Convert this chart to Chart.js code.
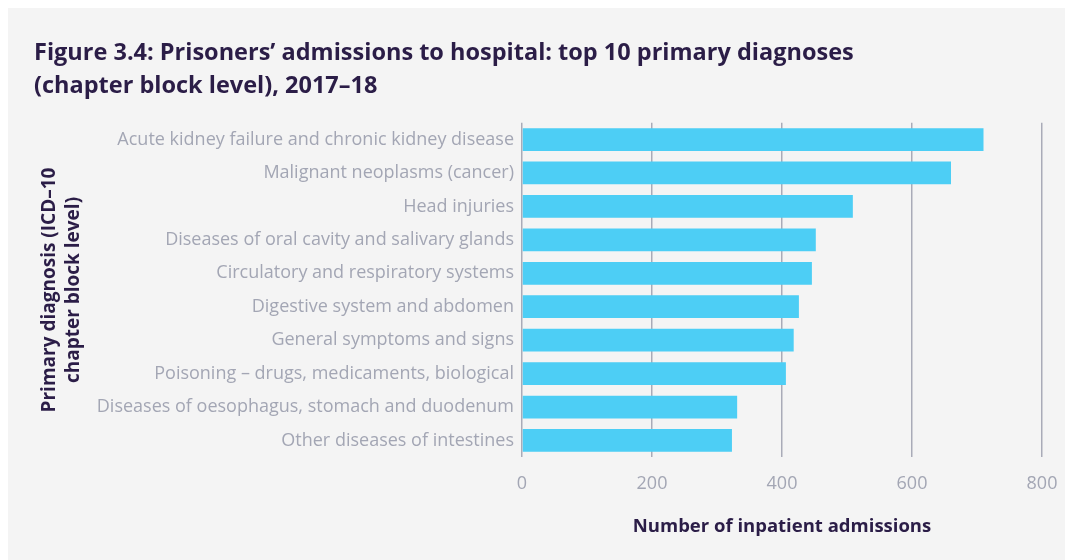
<!DOCTYPE html>
<html>
<head>
<meta charset="utf-8">
<script src="https://cdn.jsdelivr.net/npm/chart.js@4"></script>
<style>
  html, body { margin: 0; padding: 0; background: #ffffff; }
  #wrap { position: absolute; left: 8px; top: 8px; width: 1057px; height: 552px; background: #f4f4f4; }
</style>
</head>
<body>
<div id="wrap"><canvas id="diagChart"></canvas></div>
<script>
// Categorías y valores
const diagnoses = [
    'Acute kidney failure and chronic kidney disease',
    'Malignant neoplasms (cancer)',
    'Head injuries',
    'Diseases of oral cavity and salivary glands',
    'Circulatory and respiratory systems',
    'Digestive system and abdomen',
    'General symptoms and signs',
    'Poisoning – drugs, medicaments, biological',
    'Diseases of oesophagus, stomach and duodenum',
    'Other diseases of intestines'
];
const admissions = [710, 660, 509, 452, 446, 426, 418, 406, 331, 323];
const xTicks = [0, 200, 400, 600, 800];

const titleColor = '#2b1d47';
const labelColor = '#a3a6b4';

document.addEventListener('DOMContentLoaded', function () {
    const ctx = document.getElementById('diagChart').getContext('2d');

    new Chart(ctx, {
        type: 'bar',
        data: {
            labels: diagnoses,
            datasets: [{
                data: admissions,
                backgroundColor: '#4dcef5',
                borderWidth: 0,
                barPercentage: 0.68,
                categoryPercentage: 1.0
            }]
        },
        options: {
            indexAxis: 'y',
            responsive: true,
            maintainAspectRatio: false,
            animation: false,
            layout: { padding: { left: 26, right: 23, top: 29, bottom: 18 } },
            scales: {
                x: {
                    min: 0,
                    max: 800,
                    afterBuildTicks: function (axis) {
                        axis.ticks = xTicks.map(v => ({ value: v }));
                    },
                    afterFit: function (axis) {
                        // sin margen extra para la etiqueta "800"
                        axis.paddingLeft = 0;
                        axis.paddingRight = 0;
                    },
                    grid: { color: '#a9abb8', lineWidth: 1.5, drawTicks: false },
                    border: { display: false },
                    ticks: {
                        color: labelColor,
                        padding: 16,
                        font: { family: 'Open Sans', size: 18 }
                    },
                    title: {
                        display: true,
                        text: 'Number of inpatient admissions',
                        color: titleColor,
                        font: { family: 'Open Sans', size: 18.5, weight: 'bold' },
                        padding: { top: 5 }
                    }
                },
                y: {
                    afterFit: function (axis) {
                        axis.width = 488;
                    },
                    grid: { display: false, drawTicks: false },
                    border: { display: false },
                    ticks: {
                        color: labelColor,
                        padding: 8,
                        font: { family: 'Open Sans', size: 18 }
                    },
                    title: {
                        display: true,
                        text: ['Primary diagnosis (ICD–10', 'chapter block level)'],
                        color: titleColor,
                        font: { family: 'Open Sans', size: 19, weight: 'bold', lineHeight: 1.25 },
                        padding: { bottom: 10 }
                    }
                }
            },
            plugins: {
                legend: { display: false },
                tooltip: { enabled: false },
                title: {
                    display: true,
                    align: 'start',
                    text: ['Figure 3.4: Prisoners’ admissions to hospital: top 10 primary diagnoses',
                           '(chapter block level), 2017–18'],
                    color: titleColor,
                    font: { family: 'Open Sans', size: 23.5, weight: 'bold', lineHeight: 1.4 },
                    padding: { top: 0, bottom: 20 }
                }
            }
        }
    });
});
</script>
</body>
</html>
